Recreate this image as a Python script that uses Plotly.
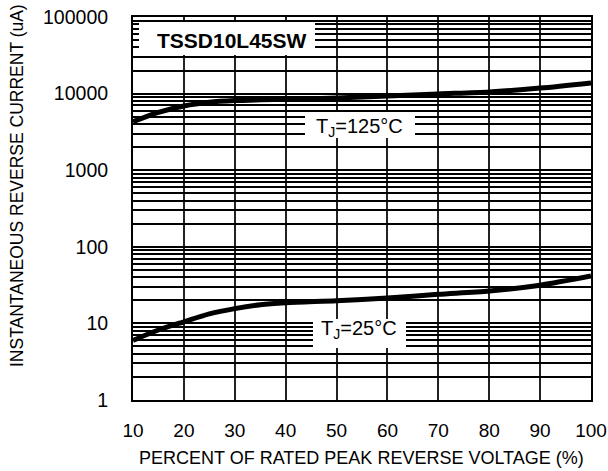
import plotly.graph_objects as go

# ---- data ----
voltage_pct = [10, 15, 20, 25, 30, 35, 40, 50, 60, 70, 80, 90, 100]
current_125C = [4300, 5700, 6900, 7700, 8100, 8300, 8450, 8750, 9300, 9900, 10500, 11800, 13800]
current_25C = [6.0, 8.2, 10.5, 13.3, 15.6, 17.5, 18.6, 19.8, 21.5, 24.0, 26.5, 31.5, 41.5]

x_ticks = [10, 20, 30, 40, 50, 60, 70, 80, 90, 100]
decades = [1, 10, 100, 1000, 10000, 100000]
decade_labels = ["1", "10", "100", "1000", "10000", "100000"]

y_tickvals, y_ticktext = [], []
for d, lab in zip(decades, decade_labels):
    for k in range(1, 10):
        v = d * k
        if v > 100000:
            break
        y_tickvals.append(v)
        y_ticktext.append(lab if k == 1 else "")

FONT = "Liberation Sans, Arial, sans-serif"

fig = go.Figure()
fig.add_trace(go.Scatter(x=voltage_pct, y=current_125C, mode="lines",
                         line=dict(color="black", width=5, shape="spline", smoothing=0.8),
                         showlegend=False, hoverinfo="skip"))
fig.add_trace(go.Scatter(x=voltage_pct, y=current_25C, mode="lines",
                         line=dict(color="black", width=5, shape="spline", smoothing=0.8),
                         showlegend=False, hoverinfo="skip"))

FIG_W, FIG_H = 608, 471
L, T, W, H = 133, 17, 458, 383   # plot area in pixels


def px(xp):  # pixel x -> paper
    return (xp - L) / W


def py(yp):  # pixel y -> paper
    return (T + H - yp) / H


# white label boxes (pixels)
boxes = [(139, 315, 22, 55), (305, 415, 112, 138), (313, 406, 319, 348)]
for x0, x1, y0, y1 in boxes:
    fig.add_shape(type="rect", xref="paper", yref="paper",
                  x0=px(x0), x1=px(x1), y0=py(y1), y1=py(y0),
                  fillcolor="white", line=dict(width=0), layer="above")

fig.add_annotation(xref="paper", yref="paper", x=px(232), y=py(41),
                   text="<b>TSSD10L45SW</b>", showarrow=False,
                   font=dict(family=FONT, size=21, color="black"),
                   xanchor="center", yanchor="middle")
fig.add_annotation(xref="paper", yref="paper", x=px(359), y=py(127),
                   text="T<sub>J</sub>=125°C", showarrow=False,
                   font=dict(family=FONT, size=20, color="black"),
                   xanchor="center", yanchor="middle")
fig.add_annotation(xref="paper", yref="paper", x=px(358.5), y=py(329),
                   text="T<sub>J</sub>=25°C", showarrow=False,
                   font=dict(family=FONT, size=20, color="black"),
                   xanchor="center", yanchor="middle")

# axis titles
fig.add_annotation(xref="paper", yref="paper", x=px(361.5), y=py(458),
                   text="PERCENT OF RATED PEAK REVERSE VOLTAGE (%)", showarrow=False,
                   font=dict(family=FONT, size=18, color="black"),
                   xanchor="center", yanchor="middle")
fig.add_annotation(xref="paper", yref="paper", x=px(17), y=py(186),
                   text="INSTANTANEOUS REVERSE CURRENT (uA)", showarrow=False,
                   textangle=-90,
                   font=dict(family=FONT, size=17.5, color="black"),
                   xanchor="center", yanchor="middle")

fig.update_layout(
    width=FIG_W, height=FIG_H,
    margin=dict(l=L, r=FIG_W - L - W, t=T, b=FIG_H - T - H, autoexpand=False),
    paper_bgcolor="white", plot_bgcolor="white",
    font=dict(family=FONT, color="black"),
    xaxis=dict(range=[10, 100], tickvals=x_ticks, ticktext=[str(v) for v in x_ticks],
               showgrid=True, gridcolor="#222", gridwidth=1.5,
               showline=True, linecolor="black", linewidth=2, mirror=True,
               zeroline=False, ticks="", ticklabelstandoff=12, automargin=False,
               ticklabeloverflow="allow",
               tickfont=dict(family=FONT, size=19, color="black")),
    yaxis=dict(type="log", range=[0, 5], tickvals=y_tickvals, ticktext=y_ticktext,
               showgrid=True, gridcolor="black", gridwidth=1.5,
               showline=True, linecolor="black", linewidth=2, mirror=True,
               zeroline=False, ticks="", ticklabelstandoff=19, automargin=False,
               ticklabeloverflow="allow",
               tickfont=dict(family=FONT, size=19.5, color="black")),
)

fig.write_html("out.html", config={"displayModeBar": False},
               post_script="document.body.style.margin='0';document.body.style.overflow='hidden';")
